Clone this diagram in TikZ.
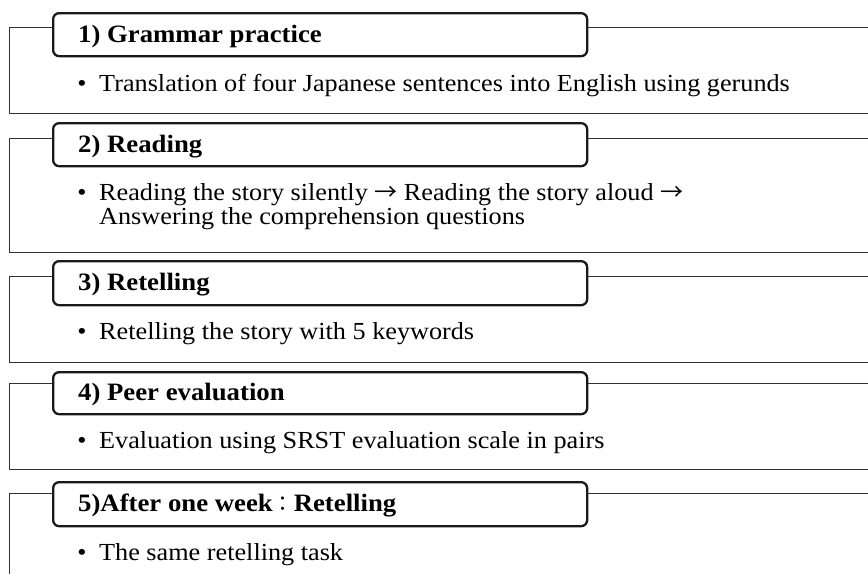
\documentclass[tikz,border=0pt]{standalone}
\usepackage{fontspec}
\setmainfont{Liberation Serif}[FakeStretch=1.07]
\newfontfamily\cjk{Noto Sans CJK JP}
\newcommand{\myarrow}{{\cjk\mdseries\fontsize{23}{23}\selectfont →}}
\begin{document}
\begin{tikzpicture}[x=1pt,y=-1pt,
  frame/.style={line width=1pt, draw=black!80},
  titlebox/.style={draw=black!90, line width=2.3pt, rounded corners=6pt, fill=white,
    minimum width=534pt, anchor=north west, inner sep=0pt},
  titletext/.style={anchor=base west, inner sep=0pt, font=\fontsize{25}{25}\selectfont\bfseries},
  bodytext/.style={anchor=base west, inner sep=0pt, font=\fontsize{24.5}{24}\selectfont},
  bulletmark/.style={anchor=base, inner sep=0pt, font=\fontsize{24.5}{24}\selectfont}]
\useasboundingbox (0,0) rectangle (868,574);
\fill[white] (0,0) rectangle (868,574);

% Box 1
\draw[frame] (868,27) -- (9,27) -- (9,113) -- (868,113);
\node[titlebox, minimum height=43pt] (tb1) at (52,12) {};
\node[titletext] (tt1) at (78,42.5) {1) Grammar practice};
\node[bulletmark] (b1) at (82,91) {•};
\node[bodytext] (x1) at (99,91) {Translation of four Japanese sentences into English using gerunds};

% Box 2
\draw[frame] (868,138) -- (9,138) -- (9,252) -- (868,252);
\node[titlebox, minimum height=43pt] (tb2) at (52,122) {};
\node[titletext] (tt2) at (78,152.5) {2) Reading};
\node[bulletmark] (b2) at (82,200) {•};
\node[bodytext] (x2a) at (99,200) {Reading the story silently \myarrow\ Reading the story aloud \myarrow};
\node[bodytext] (x2b) at (99,224) {Answering the comprehension questions};

% Box 3
\draw[frame] (868,276) -- (9,276) -- (9,362) -- (868,362);
\node[titlebox, minimum height=44pt] (tb3) at (52,260) {};
\node[titletext] (tt3) at (78,290.5) {3) Retelling};
\node[bulletmark] (b3) at (82,339) {•};
\node[bodytext] (x3) at (99,339) {Retelling the story with 5 keywords};

% Box 4
\draw[frame] (868,383) -- (9,383) -- (9,469) -- (868,469);
\node[titlebox, minimum height=42pt] (tb4) at (52,371) {};
\node[titletext] (tt4) at (78,400.5) {4) Peer evaluation};
\node[bulletmark] (b4) at (82,448) {•};
\node[bodytext] (x4) at (99,448) {Evaluation using SRST evaluation scale in pairs};

% Box 5
\draw[frame] (868,493) -- (9,493) -- (9,574);
\node[titlebox, minimum height=44pt] (tb5) at (52,481) {};
\node[titletext] (tt5) at (78,511.5) {5)After one week{\cjk\mdseries\fontsize{21}{21}\selectfont ：}Retelling};
\node[bulletmark] (b5) at (82,560) {•};
\node[bodytext] (x5) at (99,560) {The same retelling task};
\end{tikzpicture}
\end{document}
